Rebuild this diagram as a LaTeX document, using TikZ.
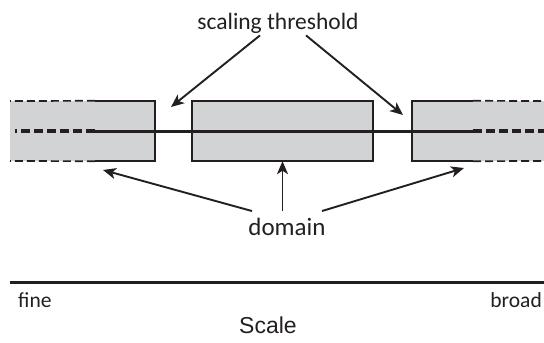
\documentclass[tikz,border=0pt]{standalone}
\usepackage{fontspec}
\setmainfont{Carlito}
\newfontfamily\arialfont{Liberation Sans}
\usepackage{xcolor}
\usetikzlibrary{arrows.meta,positioning,calc}
\definecolor{boxgray}{RGB}{209,211,212}
\definecolor{inkgray}{RGB}{35,31,32}

\begin{document}
\begin{tikzpicture}[
    x=1pt, y=-1pt,
    domainbox/.style={rectangle, fill=boxgray, minimum height=60pt, inner sep=0pt},
    edge/.style={line width=2pt, draw=inkgray},
    fadeedge/.style={line width=1.7pt, draw=inkgray, dash pattern=on 8pt off 4pt},
    scaleline/.style={line width=3pt, draw=inkgray},
    fadescale/.style={line width=3.6pt, draw=inkgray, dash pattern=on 9pt off 4pt},
    label/.style={font=\fontsize{23.5}{27}\selectfont, text=inkgray, inner sep=2pt},
    arrow/.style={line width=1.9pt, draw=inkgray, -{Stealth[length=13pt, width=11pt, inset=3.5pt]}}
]
    \useasboundingbox (0,0) rectangle (544,343);

    % faded ends of the outer domains
    \fill[boxgray] (10,101) rectangle (95,161);
    \fill[boxgray] (473,101) rectangle (544,161);

    % Domains
    \node[domainbox, minimum width=60pt]  (dleft)  at (125,131)   {};
    \node[domainbox, minimum width=181pt] (dmid)   at (282.5,131) {};
    \node[domainbox, minimum width=61pt]  (dright) at (442.5,131) {};

    \draw[edge] (dleft.north west) -| (dleft.south east) -- (dleft.south west);
    \draw[edge] (dmid.south west) rectangle (dmid.north east);
    \draw[edge] (dright.north east) -| (dright.south west) -- (dright.south east);

    \draw[fadeedge] (dleft.north west) -- (10,101);
    \draw[fadeedge] (dleft.south west) -- (10,161);
    \draw[fadeedge] (dright.north east) -- (544,101);
    \draw[fadeedge] (dright.south east) -- (544,161);

    % scale line through the domains
    \draw[scaleline] (dleft.west) -- (dright.east);
    \draw[fadescale] (dleft.west) -- (15,131);
    \draw[fadescale] (dright.east) -- (544,131);

    % Labels
    \node[label] (thr) at (278,23)  {scaling threshold};
    \node[label, font=\fontsize{25}{29}\selectfont] (dom) at (287,227) {domain};

    \coordinate (gapL) at (171,107);
    \coordinate (gapR) at (403,115);
    \coordinate (tipL) at (103,170);
    \coordinate (tipR) at (464,168);

    \draw[arrow] ([xshift=-18pt]thr.south) -- (gapL);
    \draw[arrow] ([xshift=28pt]thr.south) -- (gapR);

    \draw[arrow] ([xshift=-35pt, yshift=5pt]dom.north) -- (tipL);
    \draw[arrow] ([yshift=5pt]dom.north -| dmid.south) -- (dmid.south);
    \draw[arrow] ([xshift=35pt, yshift=5pt]dom.north) -- (tipR);

    % Scale axis
    \coordinate (axL) at (10,282);
    \coordinate (axR) at (544,282);
    \draw[line width=3pt, draw=inkgray] (axL) -- (axR);

    \node[label, font=\fontsize{21.5}{25}\selectfont, anchor=west] (fine)  at (16,300)  {fine};
    \node[label, font=\fontsize{21.5}{25}\selectfont, anchor=east] (broad) at (544,300) {broad};
    \node[font=\arialfont\fontsize{23}{27}\selectfont, text=inkgray] (scale) at (268,325) {Scale};
\end{tikzpicture}
\end{document}
